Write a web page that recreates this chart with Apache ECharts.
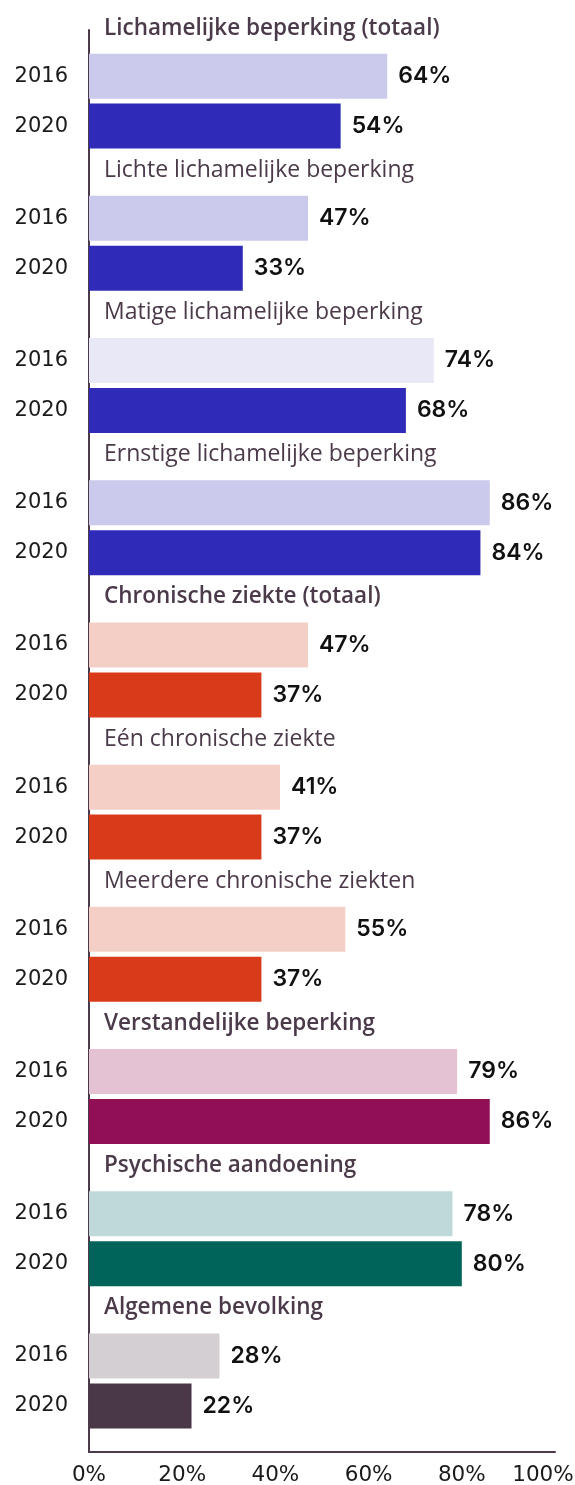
<!DOCTYPE html>
<html>
<head>
<meta charset="utf-8">
<script src="https://cdn.jsdelivr.net/npm/echarts@6/dist/echarts.min.js"></script>
<style>
  html, body { margin: 0; padding: 0; background: #fff; }
  #chart { width: 575px; height: 1485px; }
</style>
</head>
<body>
<div id="chart"></div>
<script>
// groepen (van boven naar beneden)
const groups = [
  'Lichamelijke beperking (totaal)',
  'Lichte lichamelijke beperking',
  'Matige lichamelijke beperking',
  'Ernstige lichamelijke beperking',
  'Chronische ziekte (totaal)',
  'Eén chronische ziekte',
  'Meerdere chronische ziekten',
  'Verstandelijke beperking',
  'Psychische aandoening',
  'Algemene bevolking'
];
// totaalgroepen krijgen een vette kop
const boldGroups = [true, false, false, false, true, false, false, true, true, true];
const years = ['2016', '2020'];
const values2016 = [64, 47, 74, 86, 47, 41, 55, 79, 78, 28];
const values2020 = [54, 33, 68, 84, 37, 37, 37, 86, 80, 22];
const xTicks = [0, 20, 40, 60, 80, 100];

// kleuren per groep
const colors2016 = ['#cbc9ec', '#cbc9ec', '#e9e8f7', '#cbc9ec', '#f4cfc6', '#f4cfc6', '#f4cfc6', '#e4c2d3', '#bfd9da', '#d3cfd2'];
const colors2020 = ['#2f2bb8', '#2f2bb8', '#2f2bb8', '#2f2bb8', '#d83a1a', '#d83a1a', '#d83a1a', '#910f55', '#00645a', '#4a3747'];

const axisColor = '#4b3a4a';
const font = 'Inter, "Noto Sans", sans-serif';
const tickFont = '"DejaVu Sans", sans-serif';
const titleFont = '"Open Sans", sans-serif';

const chart = echarts.init(document.getElementById('chart'));

function barSeries(name, values, colors) {
  return {
    name: name,
    type: 'bar',
    barWidth: 45,
    barGap: '11%',
    data: values.map((v, i) => ({ value: v, itemStyle: { color: colors[i] } })),
    label: {
      show: true,
      position: 'right',
      distance: 11,
      formatter: '{c}%',
      fontFamily: font,
      fontSize: 23,
      fontWeight: 600,
      color: '#111'
    },
    emphasis: { disabled: true }
  };
}

chart.setOption({
  animation: false,
  grid: { left: 89, right: 20, top: 30, bottom: 33, containLabel: false, outerBoundsMode: 'none' },
  xAxis: {
    type: 'value',
    min: 0,
    max: 100,
    interval: 20,
    axisLine: { show: true, lineStyle: { color: axisColor, width: 2 } },
    axisTick: { show: false },
    splitLine: { show: false },
    axisLabel: {
      margin: 12,
      fontFamily: tickFont,
      fontSize: 21.5,
      color: '#1a1a1a',
      // laatste label iets naar links zodat het binnen beeld blijft
      formatter: v => {
        if (xTicks.indexOf(v) < 0) return '';
        return v === 100 ? '{last|' + v + '%}' : v + '%';
      },
      rich: {
        last: { fontFamily: tickFont, fontSize: 21.5, color: '#1a1a1a', padding: [0, 24, 0, 0] }
      }
    }
  },
  yAxis: [
    {
      type: 'category',
      data: groups,
      inverse: true,
      axisLine: { show: true, lineStyle: { color: axisColor, width: 2 } },
      axisTick: { show: false },
      axisLabel: {
        margin: 21,
        fontFamily: tickFont,
        fontSize: 21,
        color: '#1a1a1a',
        lineHeight: 50,
        formatter: () => years.join('\n')
      }
    },
    {
      type: 'category',
      data: groups,
      inverse: true,
      position: 'left',
      axisLine: { show: false },
      axisTick: { show: false },
      axisLabel: {
        inside: true,
        margin: 15,
        align: 'left',
        padding: [0, 0, 146, 0],
        formatter: (v, i) => boldGroups[i] ? '{b|' + v + '}' : '{r|' + v + '}',
        rich: {
          b: { fontFamily: titleFont, fontSize: 22.5, fontWeight: 600, color: axisColor },
          r: { fontFamily: titleFont, fontSize: 23, fontWeight: 400, color: axisColor }
        }
      }
    }
  ],
  series: [
    barSeries('2016', values2016, colors2016),
    barSeries('2020', values2020, colors2020)
  ]
});
</script>
</body>
</html>
